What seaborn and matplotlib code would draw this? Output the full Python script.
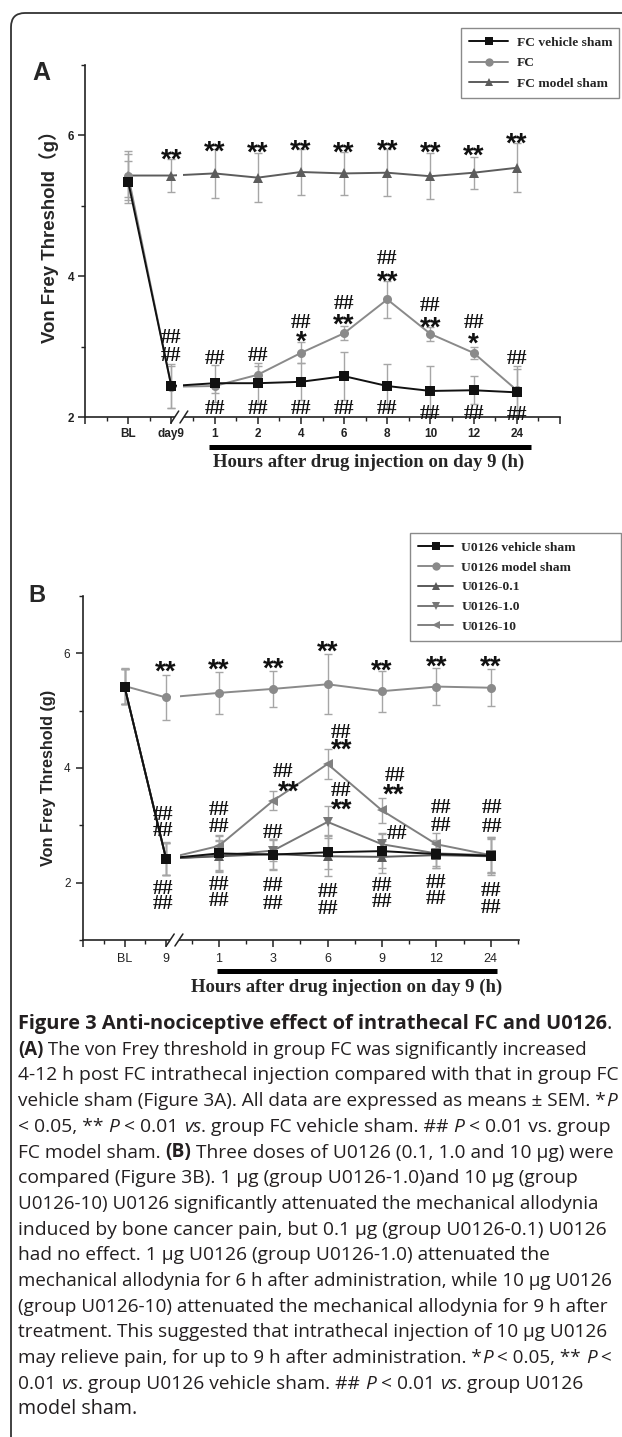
import matplotlib
matplotlib.use('Agg')
import matplotlib.pyplot as plt
import matplotlib.transforms as mtransforms
from matplotlib.patches import Rectangle, FancyBboxPatch
from matplotlib.lines import Line2D
from matplotlib.font_manager import FontProperties
import numpy as np
import pandas as pd
import seaborn as sns

# ------------------------------------------------------------------ data A
a_time_labels = ['BL', 'day9', '1', '2', '4', '6', '8', '10', '12', '24']
a_groups = ['FC vehicle sham', 'FC', 'FC model sham']
a_vehicle = [5.34, 2.44, 2.48, 2.48, 2.50, 2.58, 2.44, 2.37, 2.38, 2.35]
a_vehicle_sem = [0.30, 0.31, 0.26, 0.28, 0.26, 0.34, 0.31, 0.35, 0.20, 0.37]
a_fc = [5.43, 2.43, 2.44, 2.60, 2.91, 3.19, 3.67, 3.18, 2.91, 2.38]
a_fc_sem = [0.35, 0.30, 0.10, 0.12, 0.15, 0.10, 0.26, 0.10, 0.09, 0.30]
a_model = [5.43, 5.43, 5.46, 5.40, 5.48, 5.46, 5.47, 5.42, 5.47, 5.54]
a_model_sem = [0.31, 0.23, 0.35, 0.35, 0.33, 0.31, 0.33, 0.33, 0.23, 0.35]

# ------------------------------------------------------------------ data B
b_time_labels = ['BL', '9', '1', '3', '6', '9', '12', '24']
b_groups = ['U0126 vehicle sham', 'U0126 model sham', 'U0126-0.1', 'U0126-1.0', 'U0126-10']
b_vehicle = [5.42, 2.42, 2.51, 2.49, 2.53, 2.55, 2.50, 2.47]
b_vehicle_sem = [0.30, 0.29, 0.30, 0.27, 0.30, 0.30, 0.25, 0.33]
b_model = [5.43, 5.23, 5.31, 5.38, 5.46, 5.34, 5.42, 5.40]
b_model_sem = [0.31, 0.39, 0.36, 0.32, 0.52, 0.36, 0.32, 0.32]
b_u01 = [5.42, 2.42, 2.46, 2.50, 2.46, 2.45, 2.48, 2.46]
b_u01_sem = [0.30, 0.28, 0.28, 0.27, 0.35, 0.28, 0.22, 0.30]
b_u10 = [5.42, 2.42, 2.47, 2.56, 3.06, 2.67, 2.51, 2.48]
b_u10_sem = [0.30, 0.28, 0.25, 0.18, 0.28, 0.20, 0.22, 0.30]
b_u100 = [5.42, 2.42, 2.64, 3.43, 4.07, 3.26, 2.67, 2.48]
b_u100_sem = [0.30, 0.28, 0.19, 0.17, 0.26, 0.22, 0.20, 0.32]

# significance labels: (time index, y level of label centre, text, x shift)
a_marks = [
    (1, 5.77, '**', 0), (2, 5.88, '**', 0), (3, 5.87, '**', 0), (4, 5.90, '**', 0),
    (5, 5.87, '**', 0), (6, 5.90, '**', 0), (7, 5.86, '**', 0), (8, 5.83, '**', 0),
    (9, 6.00, '**', 0),
    (1, 3.15, '##', 0), (1, 2.89, '##', 0), (2, 2.85, '##', 0), (3, 2.89, '##', 0),
    (4, 3.37, '##', 0), (4, 3.18, '*', 0), (5, 3.64, '##', 0), (5, 3.42, '**', 0),
    (6, 4.27, '##', 0), (6, 4.03, '**', 0), (7, 3.61, '##', 0), (7, 3.38, '**', 0),
    (8, 3.37, '##', 0), (8, 3.16, '*', 0), (9, 2.85, '##', 0),
    (2, 2.14, '##', 0), (3, 2.14, '##', 0), (4, 2.14, '##', 0), (5, 2.14, '##', 0),
    (6, 2.14, '##', 0), (7, 2.07, '##', 0), (8, 2.07, '##', 0), (9, 2.06, '##', 0),
]
b_marks = [
    (1, 5.81, '**', 0), (2, 5.86, '**', 0), (3, 5.87, '**', 0), (4, 6.17, '**', 0),
    (5, 5.83, '**', 0), (6, 5.90, '**', 0), (7, 5.90, '**', 0),
    (1, 3.21, '##', -0.08), (1, 2.93, '##', -0.08), (2, 3.30, '##', 0), (2, 3.01, '##', 0),
    (3, 2.90, '##', 0), (6, 3.33, '##', 0.1), (6, 3.03, '##', 0.1),
    (7, 3.33, '##', 0.04), (7, 3.01, '##', 0.04),
    (3, 3.96, '##', 0.23), (3, 3.73, '**', 0.37),
    (4, 4.65, '##', 0.33), (4, 4.45, '**', 0.33),
    (4, 3.64, '##', 0.33), (4, 3.41, '**', 0.33),
    (5, 3.89, '##', 0.32), (5, 3.67, '**', 0.27), (5, 2.88, '##', 0.37),
    (1, 1.92, '##', -0.08), (1, 1.66, '##', -0.08), (2, 2.00, '##', 0), (2, 1.72, '##', 0),
    (3, 1.98, '##', 0), (3, 1.66, '##', 0), (4, 1.87, '##', 0), (4, 1.57, '##', 0),
    (5, 1.98, '##', 0), (5, 1.69, '##', 0), (6, 2.03, '##', 0), (6, 1.75, '##', 0),
    (7, 1.89, '##', 0), (7, 1.60, '##', 0),
]

# ------------------------------------------------------------------ layout
W, H = 622, 1437
DPI = 100
a_xpos = list(range(1, 11))
b_xpos = [1, 2, 3.27, 4.58, 5.89, 7.20, 8.51, 9.82]

a_colors = {'FC vehicle sham': '#111111', 'FC': '#8a8a8a', 'FC model sham': '#5c5c5c'}
a_markers = {'FC vehicle sham': 's', 'FC': 'o', 'FC model sham': '^'}
b_colors = {'U0126 vehicle sham': '#111111', 'U0126 model sham': '#8a8a8a',
            'U0126-0.1': '#5a5a5a', 'U0126-1.0': '#777777', 'U0126-10': '#808080'}
b_markers = {'U0126 vehicle sham': 's', 'U0126 model sham': 'o',
             'U0126-0.1': '^', 'U0126-1.0': 'v', 'U0126-10': '<'}

sns.set_style('ticks')
plt.rcParams['font.family'] = ['Liberation Sans', 'DejaVu Sans']
plt.rcParams['axes.edgecolor'] = '#222222'
plt.rcParams['axes.linewidth'] = 1.2
plt.rcParams['xtick.color'] = '#222222'
plt.rcParams['ytick.color'] = '#222222'

fig = plt.figure(figsize=(W / DPI, H / DPI), dpi=DPI)
fig.patch.set_facecolor('white')
renderer = fig.canvas.get_renderer()


def px_axes(l, t, r, b):
    return fig.add_axes([l / W, 1 - b / H, (r - l) / W, (b - t) / H])


axA = px_axes(85, 65, 560, 417)
axB = px_axes(83, 596, 519, 940)

hash_font = dict(family='Liberation Serif', weight='bold', size=14.8)
star_font = dict(family='Liberation Sans', weight='bold', size=20)


def draw_panel(ax, xpos, groups, series, sems, colors, markers, order):
    rows = []
    for g, vals in zip(groups, series):
        for x, v in zip(xpos, vals):
            rows.append({'pos': x, 'val': v, 'group': g})
    df = pd.DataFrame(rows)
    for g, vals, se in zip(groups, series, sems):
        ax.errorbar(xpos, vals, yerr=se, fmt='none', ecolor='#a6a6a6',
                    elinewidth=1.0, capsize=3, capthick=1.0, zorder=2)
    sns.lineplot(data=df, x='pos', y='val', hue='group', style='group',
                 hue_order=order, style_order=order, palette=colors,
                 markers=markers, dashes=False, estimator=None, legend=False,
                 markersize=6.5, markeredgewidth=0, linewidth=1.4, zorder=3, ax=ax)
    ax.set_xlabel('')
    ax.set_ylabel('')
    sns.despine(ax=ax)


def axis_break(ax, s0, s1, l0, l1, hw, hh):
    trans = mtransforms.blended_transform_factory(ax.transData, ax.transAxes)
    ax.add_patch(Rectangle((l0, 0.0), l1 - l0, 1.0, transform=trans, facecolor='white',
                           edgecolor='none', zorder=3.5, clip_on=False))
    ax.add_patch(Rectangle((s0, -0.015), s1 - s0, 0.03, transform=trans, facecolor='white',
                           edgecolor='none', zorder=3.5, clip_on=False))
    for xc in (s0, s1):
        ax.plot([xc - hw, xc + hw], [-hh, hh], transform=trans, color='#222222',
                lw=1.1, clip_on=False, zorder=4)


def marks(ax, xpos, items):
    px_per_unit = abs(ax.transData.transform((0, 1))[1] - ax.transData.transform((0, 0))[1])
    hp = FontProperties(family=hash_font['family'], weight='bold', size=hash_font['size'])
    _, lp_h, lp_d = renderer.get_text_width_height_descent('lp', hp, ismath=False)
    asc = lp_h - lp_d
    hashes = {}
    for i, y, txt, dx in items:
        if '#' in txt:
            hashes.setdefault((i, dx), []).append(y)
        else:
            f = star_font
            off = 0.57 * f['size']
            ax.annotate(txt, xy=(xpos[i] + dx, y), xytext=(0, -off),
                        textcoords='offset points', ha='center', va='baseline',
                        fontfamily=f['family'], fontweight=f['weight'],
                        fontsize=f['size'], color='#111111', zorder=6,
                        annotation_clip=False)
    # stacked hash labels at one position become a single multi-line text
    for (i, dx), ys in hashes.items():
        ys = sorted(ys, reverse=True)
        stacks = [[ys[0]]]
        for y in ys[1:]:
            if stacks[-1][-1] - y < 0.4:
                stacks[-1].append(y)
            else:
                stacks.append([y])
        for st in stacks:
            if len(st) > 1:
                dy = (st[0] - st[-1]) / (len(st) - 1) * px_per_unit
                ls = max(dy - lp_d, 1.0) / asc
            else:
                ls = 1.0
            off = 0.34 * hash_font['size']
            # 'baseline' alignment of multi-line text refers to its last line
            ax.annotate('\n'.join(['##'] * len(st)), xy=(xpos[i] + dx, st[-1]),
                        xytext=(0, -off), textcoords='offset points', ha='center',
                        va='baseline', multialignment='center', linespacing=ls,
                        fontfamily=hash_font['family'], fontweight='bold',
                        fontsize=hash_font['size'], color='#111111', zorder=6,
                        annotation_clip=False)


def hour_bar(ax, x0, x1, yb):
    trans = mtransforms.blended_transform_factory(ax.transData, ax.transAxes)
    ax.plot([x0, x1], [yb, yb], transform=trans, color='black', lw=3.6,
            solid_capstyle='butt', clip_on=False, zorder=4)


# ------------------------------------------------------------------ panel A
draw_panel(axA, a_xpos, a_groups, [a_vehicle, a_fc, a_model],
           [a_vehicle_sem, a_fc_sem, a_model_sem], a_colors, a_markers,
           ['FC model sham', 'FC', 'FC vehicle sham'])
axA.set_xlim(0, 11)
axA.set_ylim(2, 7)
axA.set_xticks([0] + a_xpos + [11])
axA.set_xticklabels([''] + a_time_labels + [''], fontweight='bold', fontsize=8.5)
axA.set_xticks(np.arange(0.5, 11, 1), minor=True)
axA.set_yticks([2, 4, 6])
axA.set_yticklabels(['2', '4', '6'], fontweight='bold', fontsize=8.5)
axA.set_yticks([3, 5, 7], minor=True)
axA.tick_params(which='major', length=5, width=1.1, pad=3)
axA.tick_params(which='minor', length=3, width=1.0)
axis_break(axA, 2.08, 2.29, 2.12, 2.27, 0.09, 0.017)
hour_bar(axA, 2.87, 10.33, -0.085)
axA.set_xlabel('Hours after drug injection on day 9 (h)', fontfamily='Liberation Serif',
               fontweight='bold', fontsize=13.5)
axA.xaxis.set_label_coords(0.598, -0.128)
axA.xaxis.label.set_va('center')
axA.set_ylabel('Von Frey Threshold（g）', fontfamily=['Liberation Sans', 'Noto Sans CJK SC'],
               fontweight='bold', fontsize=13.4)
axA.yaxis.set_label_coords(-0.0758, 0.5256)
axA.yaxis.label.set_va('center')

# ------------------------------------------------------------------ panel B
draw_panel(axB, b_xpos, b_groups, [b_vehicle, b_model, b_u01, b_u10, b_u100],
           [b_vehicle_sem, b_model_sem, b_u01_sem, b_u10_sem, b_u100_sem],
           b_colors, b_markers,
           ['U0126 model sham', 'U0126-10', 'U0126-1.0', 'U0126-0.1', 'U0126 vehicle sham'])
axB.set_xlim(0, 10.5)
axB.set_ylim(1, 7)
b_major = [0] + b_xpos
axB.set_xticks(b_major)
axB.set_xticklabels([''] + b_time_labels, fontsize=9)
b_minor = [(b_major[k] + b_major[k + 1]) / 2 for k in range(len(b_major) - 1)]
b_minor.append(b_xpos[-1] + (b_xpos[-1] - b_xpos[-2]) / 2)
axB.set_xticks(b_minor, minor=True)
axB.set_yticks([2, 4, 6])
axB.set_yticklabels(['2', '4', '6'], fontsize=8.5)
axB.set_yticks([1, 3, 5, 7], minor=True)
axB.tick_params(which='major', length=5, width=1.1, pad=4)
axB.tick_params(which='minor', length=3, width=1.0)
axis_break(axB, 2.10, 2.31, 2.12, 2.33, 0.096, 0.0175)
hour_bar(axB, 3.23, 9.98, -0.090)
axB.set_xlabel('Hours after drug injection on day 9 (h)', fontfamily='Liberation Serif',
               fontweight='bold', fontsize=13.5)
axB.xaxis.set_label_coords(0.605, -0.137)
axB.xaxis.label.set_va('center')
axB.set_ylabel('Von Frey Threshold (g)', fontweight='bold', fontsize=11.7)
axB.yaxis.set_label_coords(-0.078, 0.471)
axB.yaxis.label.set_va('center')

marks(axA, a_xpos, a_marks)
marks(axB, b_xpos, b_marks)

# ------------------------------------------------------------------ legends
leg_font = FontProperties(family='Liberation Serif', weight='bold', size=9.7)


def make_legend(groups, colors, markers, box, spacing, hl):
    handles = [Line2D([], [], color=colors[g], marker=markers[g], markersize=6,
                      markeredgewidth=0, lw=1.4) for g in groups]
    l, t, r, b = box
    leg = fig.legend(handles, groups, loc='upper left',
                     bbox_to_anchor=(l / W, 1 - b / H, (r - l) / W, (b - t) / H),
                     mode='expand', bbox_transform=fig.transFigure, prop=leg_font,
                     frameon=True, fancybox=False, edgecolor='#8a8a8a', framealpha=1,
                     handlelength=hl, handletextpad=0.6, labelspacing=spacing,
                     borderpad=0.62, borderaxespad=0, numpoints=1)
    leg.get_frame().set_linewidth(1.0)
    return leg


make_legend(a_groups, a_colors, a_markers, (461, 28, 619, 97), 0.6, 2.9)
make_legend(b_groups, b_colors, b_markers, (410, 533, 621, 640), 0.55, 2.6)

# panel letters
fig.text(32 / W, 1 - 80 / H, 'A', fontsize=18, fontweight='bold', va='baseline')
fig.text(28 / W, 1 - 602 / H, 'B', fontsize=17, fontweight='bold', va='baseline')

# ------------------------------------------------------------------ caption
cap_color = '#231f20'
styles = {'r': dict(fontweight='normal', fontstyle='normal'),
          'b': dict(fontweight='bold', fontstyle='normal'),
          'i': dict(fontweight='normal', fontstyle='italic')}


def text_adv(s, kw):
    t = fig.text(0, 0, s + '|', **kw)
    w1 = t.get_window_extent(renderer).width
    t.set_text('|')
    w2 = t.get_window_extent(renderer).width
    t.remove()
    return w1 - w2


cap_lines = [
    [('Figure 3 Anti-nociceptive effect of intrathecal FC and U0126', 'b'), ('.', 'r')],
    [('(A)', 'b'), (' The von Frey threshold in group FC was significantly increased', 'r')],
    [('4-12 h post FC intrathecal injection compared with that in group FC', 'r')],
    [('vehicle sham (Figure 3A). All data are expressed as means ± SEM. *', 'r'), ('P', 'i')],
    [('< 0.05, ** ', 'r'), ('P', 'i'), (' < 0.01 ', 'r'), ('vs', 'i'),
     ('. group FC vehicle sham. ## ', 'r'), ('P', 'i'), (' < 0.01 vs. group', 'r')],
    [('FC model sham. ', 'r'), ('(B)', 'b'),
     (' Three doses of U0126 (0.1, 1.0 and 10 μg) were', 'r')],
    [('compared (Figure 3B). 1 μg (group U0126-1.0)and 10 μg (group', 'r')],
    [('U0126-10) U0126 significantly attenuated the mechanical allodynia', 'r')],
    [('induced by bone cancer pain, but 0.1 μg (group U0126-0.1) U0126', 'r')],
    [('had no effect. 1 μg U0126 (group U0126-1.0) attenuated the', 'r')],
    [('mechanical allodynia for 6 h after administration, while 10 μg U0126', 'r')],
    [('(group U0126-10) attenuated the mechanical allodynia for 9 h after', 'r')],
    [('treatment. This suggested that intrathecal injection of 10 μg U0126', 'r')],
    [('may relieve pain, for up to 9 h after administration. *', 'r'), ('P', 'i'),
     (' < 0.05, ** ', 'r'), ('P', 'i'), (' <', 'r')],
    [('0.01 ', 'r'), ('vs', 'i'), ('. group U0126 vehicle sham. ## ', 'r'), ('P', 'i'),
     (' < 0.01 ', 'r'), ('vs', 'i'), ('. group U0126', 'r')],
    [('model sham.', 'r')],
]
cap_line_ends = [619, 587, 617, 619, 613, 613, 577, 601, 605, 548, 615, 609, 609, 615, 581, 137]
cap_left = 18.0

sizes = []
for line, xe in zip(cap_lines, cap_line_ends):
    nat = sum(text_adv(seg, dict(fontsize=10, fontfamily='Open Sans', **styles[st]))
              for seg, st in line)
    sizes.append(10 * (xe - cap_left) / nat)
med = float(np.median(sizes))
sizes = [min(max(s, med * 0.95), med * 1.05) for s in sizes]

base0 = 1029.0
step = 25.7
for li, (line, fs) in enumerate(zip(cap_lines, sizes)):
    x = cap_left
    y = base0 + li * step
    for seg, st in line:
        kw = dict(fontsize=fs, fontfamily='Open Sans', color=cap_color, **styles[st])
        fig.text(x / W, 1 - y / H, seg, va='baseline', ha='left', **kw)
        x += text_adv(seg, kw)

# outer frame
frame = FancyBboxPatch((11, -60), 820, H - 13 + 60, boxstyle='round,pad=0,rounding_size=14',
                       facecolor='none', edgecolor='#333333', linewidth=1.3,
                       transform=mtransforms.IdentityTransform())
fig.add_artist(frame)

fig.savefig('out.png', dpi=DPI)
